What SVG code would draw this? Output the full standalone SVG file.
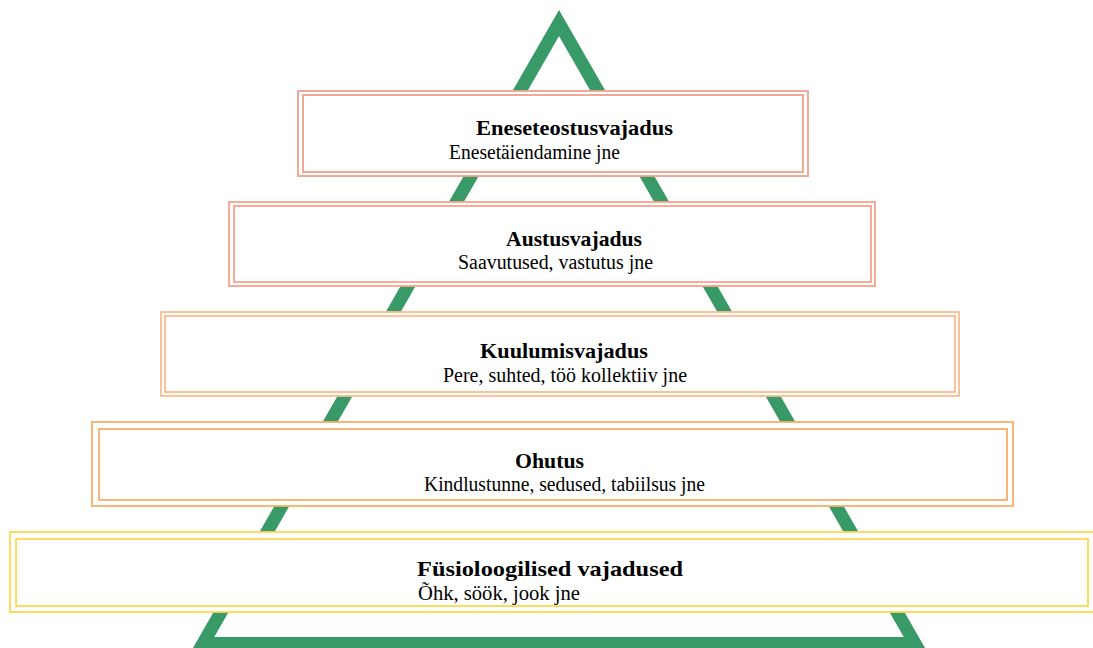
<svg xmlns="http://www.w3.org/2000/svg" width="1093" height="648" viewBox="0 0 1093 648">
<style>
.o{fill:#fff;stroke-width:1.8}
.i{fill:none;stroke-width:1.8}
.c1{stroke:#f0a08c}
.c2{stroke:#fba18c}
.c3{stroke:#fbbc8e}
.c4{stroke:#fbae66}
.c5{stroke:#fdd84c}
.t{font-family:"Liberation Serif",serif;font-weight:bold;font-size:22px;fill:#000}
.s{font-family:"Liberation Serif",serif;font-size:20px;fill:#000}
</style>
<rect width="1093" height="648" fill="#fff"/>
<g id="triangle">
<polygon points="559,23 915,643.5 203,643.5" fill="none" stroke="#389a66" stroke-width="13" stroke-linejoin="miter" stroke-miterlimit="10"/>
</g>
<g id="node1">
<rect class="o c1" x="298" y="91" width="510" height="85"/>
<rect class="i c1" x="303" y="95" width="500" height="77"/>
<text class="t" x="476" y="135" textLength="197" lengthAdjust="spacingAndGlyphs">Eneseteostusvajadus</text>
<text class="s" x="449" y="159" textLength="171" lengthAdjust="spacingAndGlyphs">Enesetäiendamine jne</text>
</g>
<g id="node2">
<rect class="o c2" x="229" y="202" width="646" height="84"/>
<rect class="i c2" x="234" y="206" width="637" height="76"/>
<text class="t" x="506" y="246" textLength="136" lengthAdjust="spacingAndGlyphs">Austusvajadus</text>
<text class="s" x="458" y="269" textLength="195" lengthAdjust="spacingAndGlyphs">Saavutused, vastutus jne</text>
</g>
<g id="node3">
<rect class="o c3" x="161" y="312" width="798" height="84"/>
<rect class="i c3" x="165" y="316" width="790" height="76"/>
<text class="t" x="480" y="358" textLength="168" lengthAdjust="spacingAndGlyphs">Kuulumisvajadus</text>
<text class="s" x="443" y="382" textLength="244" lengthAdjust="spacingAndGlyphs">Pere, suhted, töö kollektiiv jne</text>
</g>
<g id="node4">
<rect class="o c4" x="92" y="422" width="921" height="84"/>
<rect class="i c4" x="99" y="429" width="908" height="71"/>
<text class="t" x="515" y="468" textLength="69" lengthAdjust="spacingAndGlyphs">Ohutus</text>
<text class="s" x="424" y="491" textLength="281" lengthAdjust="spacingAndGlyphs">Kindlustunne, sedused, tabiilsus jne</text>
</g>
<g id="node5">
<rect class="o c5" x="10" y="532" width="1090" height="80"/>
<rect class="i c5" x="16" y="539" width="1072" height="67"/>
<text class="t" x="417" y="576" textLength="266" lengthAdjust="spacingAndGlyphs">Füsioloogilised vajadused</text>
<text class="s" x="418" y="600" textLength="162" lengthAdjust="spacingAndGlyphs">Õhk, söök, jook jne</text>
</g>
<g id="connectors"/>
</svg>
